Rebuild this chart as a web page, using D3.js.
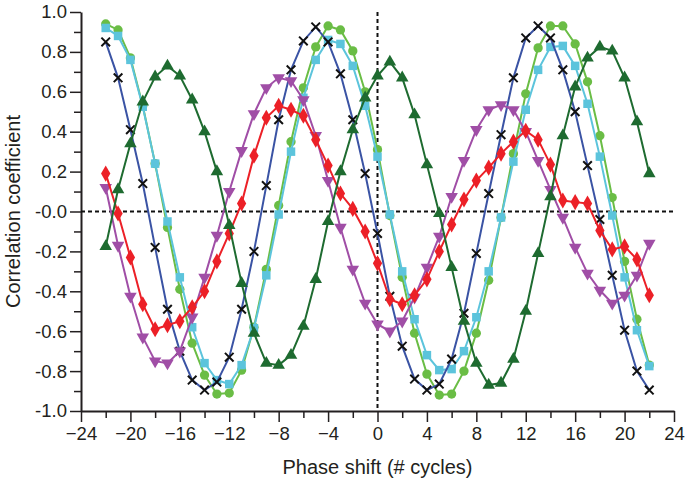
<html>
<head>
<meta charset="UTF-8">
<script src="https://d3js.org/d3.v7.min.js"></script>
<style>
body {
	margin: 0;
	background: #fff;
	font-family: "Liberation Sans", Arial, sans-serif;
}
.axis text { font-size: 18.5px; fill: #231f20; }
.axis path, .axis line { stroke: #231f20; }
</style>
</head>
<body>
<svg id="chart" width="688" height="485"></svg>
<script>

// desfase (ciclos)
var shifts = [-22,-21,-20,-19,-18,-17,-16,-15,-14,-13,-12,-11,-10,-9,-8,-7,-6,-5,-4,-3,-2,-1,0,
	1,2,3,4,5,6,7,8,9,10,11,12,13,14,15,16,17,18,19,20,21,22];

// series
var green = [0.94,0.91,0.77,0.53,0.24,-0.08,-0.39,-0.66,-0.82,-0.915,-0.91,-0.795,-0.58,-0.29,0.03,0.35,0.62,0.825,0.93,0.91,0.805,0.60,0.31,
	-0.02,-0.33,-0.61,-0.815,-0.92,-0.915,-0.80,-0.61,-0.345,-0.03,0.29,0.59,0.82,0.93,0.93,0.84,0.65,0.38,0.07,-0.25,-0.54,-0.77];
var cyan = [0.92,0.88,0.76,0.525,0.24,-0.05,-0.33,-0.58,-0.76,-0.845,-0.865,-0.77,-0.585,-0.32,-0.015,0.30,0.57,0.76,0.86,0.84,0.73,0.53,0.275,
	-0.015,-0.30,-0.54,-0.72,-0.795,-0.79,-0.70,-0.53,-0.30,-0.03,0.25,0.51,0.71,0.825,0.83,0.73,0.54,0.275,-0.02,-0.33,-0.595,-0.775];
var blue = [0.85,0.67,0.41,0.14,-0.18,-0.49,-0.70,-0.845,-0.895,-0.855,-0.73,-0.49,-0.20,0.13,0.46,0.71,0.855,0.925,0.85,0.69,0.46,0.19,-0.11,
	-0.425,-0.675,-0.84,-0.895,-0.865,-0.74,-0.51,-0.21,0.09,0.385,0.67,0.87,0.93,0.87,0.71,0.50,0.23,-0.04,-0.32,-0.595,-0.80,-0.895];
var darkGreen = [-0.175,0.11,0.34,0.55,0.675,0.73,0.68,0.56,0.40,0.20,-0.07,-0.36,-0.61,-0.76,-0.77,-0.72,-0.575,-0.34,-0.05,0.20,0.41,0.57,0.68,
	0.75,0.67,0.485,0.235,-0.01,-0.28,-0.55,-0.76,-0.87,-0.86,-0.74,-0.50,-0.21,0.075,0.38,0.625,0.77,0.825,0.805,0.67,0.45,0.19];
var red = [0.19,-0.01,-0.23,-0.465,-0.59,-0.57,-0.55,-0.48,-0.40,-0.25,-0.11,0.04,0.28,0.47,0.53,0.51,0.48,0.36,0.23,0.09,0.013,-0.10,-0.26,
	-0.44,-0.465,-0.42,-0.34,-0.20,-0.065,0.06,0.155,0.22,0.29,0.35,0.405,0.36,0.235,0.055,0.047,0.04,-0.095,-0.19,-0.175,-0.24,-0.42];
var purple = [0.12,-0.17,-0.425,-0.63,-0.75,-0.76,-0.70,-0.53,-0.33,-0.12,0.10,0.305,0.49,0.62,0.67,0.655,0.56,0.38,0.155,-0.08,-0.29,-0.46,-0.565,
	-0.60,-0.55,-0.43,-0.28,-0.125,0.075,0.255,0.41,0.51,0.535,0.51,0.40,0.255,0.11,-0.03,-0.18,-0.31,-0.395,-0.46,-0.42,-0.32,-0.16];

// marcas de los ejes
var xTicks = [-24,-20,-16,-12,-8,-4,0,4,8,12,16,20,24];
var xMinor = [-22,-18,-14,-10,-6,-2,2,6,10,14,18,22];
var yTicks = [1.0,0.8,0.6,0.4,0.2,0,-0.2,-0.4,-0.6,-0.8,-1.0];
var yTickLabels = ["1.0","0.8","0.6","0.4","0.2","-0.0","-0.2","-0.4","-0.6","-0.8","-1.0"];
var yMinor = [0.9,0.7,0.5,0.3,0.1,-0.1,-0.3,-0.5,-0.7,-0.9];

var svg = d3.select("#chart");

var x = d3.scaleLinear().domain([-24, 24]).range([81, 674]);
var y = d3.scaleLinear().domain([-1, 1]).range([411, 12]);

// ejes: marcas menores primero, luego las mayores con texto
svg.append("g").attr("class", "axis")
	.attr("transform", "translate(0,411)")
	.call(d3.axisBottom(x).tickValues(xMinor).tickSize(7).tickSizeOuter(0).tickFormat(""))
	.call(g => g.select(".domain").remove());
svg.append("g").attr("class", "axis")
	.attr("transform", "translate(81,0)")
	.call(d3.axisLeft(y).tickValues(yMinor).tickSize(7).tickSizeOuter(0).tickFormat(""))
	.call(g => g.select(".domain").remove());

var xAxis = svg.append("g").attr("class", "axis")
	.attr("transform", "translate(0,411)")
	.call(d3.axisBottom(x).tickValues(xTicks).tickSize(11).tickSizeOuter(0).tickPadding(5));
var yAxis = svg.append("g").attr("class", "axis")
	.attr("transform", "translate(81,0)")
	.call(d3.axisLeft(y).tickValues(yTicks).tickSize(11).tickSizeOuter(0).tickPadding(3)
		.tickFormat((d, i) => yTickLabels[i]));

svg.selectAll(".axis .domain").attr("stroke-width", 2);
svg.selectAll(".axis line").attr("stroke-width", 1.5);
svg.selectAll(".axis text").attr("font-family", "Liberation Sans, Arial, sans-serif");

// lineas de referencia punteadas
svg.append("line")
	.attr("x1", x(-24)).attr("x2", x(24))
	.attr("y1", y(0)).attr("y2", y(0))
	.attr("stroke", "#111").attr("stroke-width", 2).attr("stroke-dasharray", "4,3");
svg.append("line")
	.attr("x1", x(0)).attr("x2", x(0))
	.attr("y1", y(1)).attr("y2", y(-1))
	.attr("stroke", "#111").attr("stroke-width", 2).attr("stroke-dasharray", "4,3");

// titulos de los ejes
svg.append("text")
	.attr("x", x(0)).attr("y", 474)
	.attr("text-anchor", "middle")
	.style("font-size", "20px").style("fill", "#231f20")
	.text("Phase shift (# cycles)");
svg.append("text")
	.attr("transform", "translate(20," + y(0) + ") rotate(-90)")
	.attr("text-anchor", "middle")
	.style("font-size", "20px").style("fill", "#231f20")
	.text("Correlation coefficient");

var line = d3.line()
	.x((d, i) => x(shifts[i]))
	.y(d => y(d));

var series = [
	{values: green, color: "#6abd45", marker: "circle"},
	{values: cyan, color: "#5cc4dc", marker: "square"},
	{values: blue, color: "#3a53a4", marker: "cross", markerColor: "#111"},
	{values: purple, color: "#a04ea6", marker: "triangleDown"},
	{values: red, color: "#ec2027", marker: "diamond"},
	{values: darkGreen, color: "#1e6b30", marker: "triangle"}
];

var symbols = {
	circle: d3.symbol().type(d3.symbolCircle).size(68),
	square: d3.symbol().type(d3.symbolSquare).size(72),
	diamond: d3.symbol().type(d3.symbolDiamond).size(75),
	triangle: d3.symbol().type(d3.symbolTriangle).size(68),
	cross: d3.symbol().type(d3.symbolX).size(50)
};

series.forEach(function(s) {
	var g = svg.append("g");
	g.append("path")
		.datum(s.values)
		.attr("fill", "none")
		.attr("stroke", s.color)
		.attr("stroke-width", 2)
		.attr("d", line);

	var pts = g.selectAll("path.pt")
		.data(s.values)
		.enter().append("path")
		.attr("class", "pt");

	if (s.marker == "cross") {
		pts.attr("d", symbols.cross())
			.attr("fill", "none")
			.attr("stroke", s.markerColor)
			.attr("stroke-width", 2)
			.attr("transform", (d, i) => "translate(" + x(shifts[i]) + "," + y(d) + ")");
	} else if (s.marker == "triangleDown") {
		pts.attr("d", symbols.triangle())
			.attr("fill", s.color)
			.attr("transform", (d, i) => "translate(" + x(shifts[i]) + "," + y(d) + ") rotate(180)");
	} else {
		pts.attr("d", symbols[s.marker]())
			.attr("fill", s.color)
			.attr("transform", (d, i) => "translate(" + x(shifts[i]) + "," + y(d) + ")");
	}
});

</script>
</body>
</html>
